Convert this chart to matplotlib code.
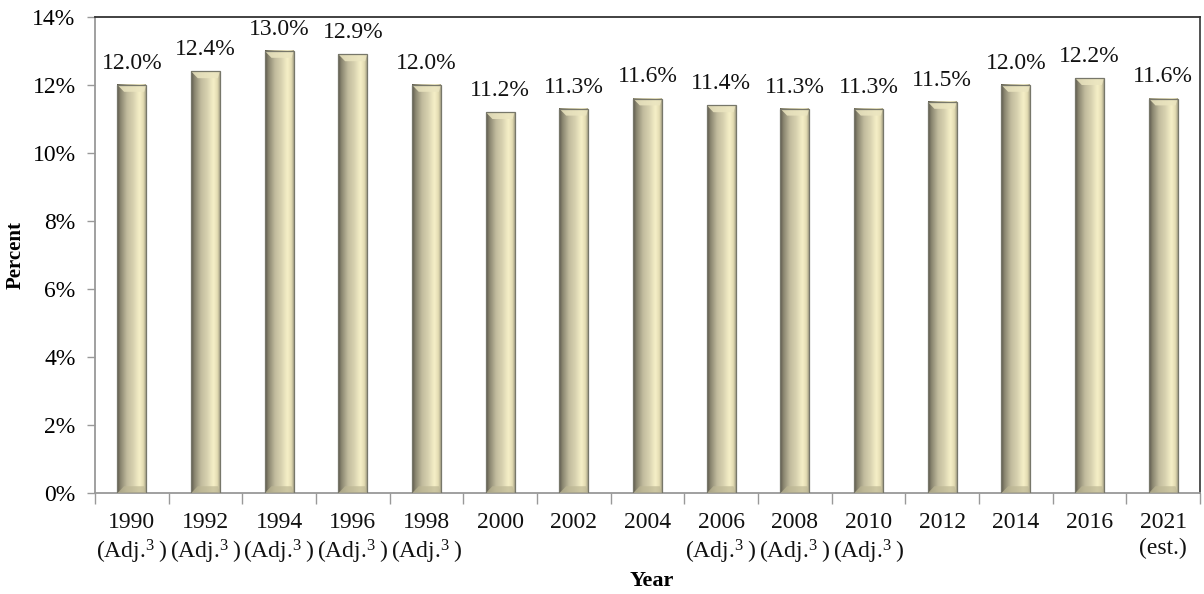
import numpy as np
import matplotlib
matplotlib.use("Agg")
import matplotlib.pyplot as plt
from matplotlib.colors import LinearSegmentedColormap
from matplotlib.patches import Polygon, Rectangle

years = ["1990", "1992", "1994", "1996", "1998", "2000", "2002", "2004",
         "2006", "2008", "2010", "2012", "2014", "2016", "2021"]
adj = "(Adj.$^{3}$\u2009)"
notes = [adj, adj, adj, adj, adj, "", "", "",
         adj, adj, adj, "", "", "", "(est.)"]
values = [12.0, 12.4, 13.0, 12.9, 12.0, 11.2, 11.3, 11.6,
          11.4, 11.3, 11.3, 11.5, 12.0, 12.2, 11.6]

plt.rcParams["font.family"] = ["Liberation Serif", "DejaVu Serif"]
plt.rcParams["mathtext.fontset"] = "custom"
plt.rcParams["mathtext.rm"] = "Liberation Serif"
plt.rcParams["mathtext.it"] = "Liberation Serif"
plt.rcParams["mathtext.default"] = "rm"

fig = plt.figure(figsize=(12.04, 5.94), dpi=100)
ax = fig.add_axes([0.0789, 0.170, 0.9178, 0.8014])

# shaded column look: dark left edge, bright highlight near the right
shade = LinearSegmentedColormap.from_list(
    "col", [(0.0, "#5a574a"), (0.12, "#8a8670"), (0.35, "#c2bc9e"),
            (0.55, "#d6d0ae"), (0.78, "#f6f0c8"), (0.92, "#e2dbb2"),
            (1.0, "#a6a186")])
grad = np.linspace(0, 1, 200).reshape(1, -1)

x = np.arange(len(values))
w = 0.39
bev_x = 0.09
bev_y = 0.2
for xi, v in zip(x, values):
    l, r = xi - w / 2, xi + w / 2
    ax.imshow(grad, cmap=shade, extent=[l, r, 0, v], aspect="auto",
              interpolation="bicubic", zorder=2)
    ax.add_patch(Polygon([(l, v), (r, v), (r - bev_x * 0.3, v - bev_y),
                          (l + bev_x, v - bev_y)],
                         closed=True, fc="#ebe5c0", ec="none", alpha=0.85, zorder=3))
    ax.add_patch(Polygon([(l, 0), (r, 0), (r - bev_x * 0.3, bev_y),
                          (l + bev_x, bev_y)],
                         closed=True, fc="#bdb794", ec="none", alpha=0.7, zorder=3))
    ax.add_patch(Rectangle((l, 0), w, v, fill=False, ec="#77776a", lw=0.9, zorder=4))
    ax.annotate(f"{v:.1f}%", (xi, v), xytext=(0, 8), textcoords="offset points",
                ha="center", va="bottom", fontsize=17, color="#111111")

ax.set_xlim(-0.5, len(values) - 0.5)
ax.set_ylim(0, 14)

ax.set_yticks(np.arange(0, 15, 2))
ax.set_yticklabels([f"{t}%" for t in range(0, 15, 2)], fontsize=17)
ax.set_xticks(np.arange(-0.5, len(values), 1.0))
ax.set_xticklabels([])
ax.tick_params(axis="y", length=6, width=1, color="#999999", pad=8)
ax.tick_params(axis="x", length=8, width=1, color="#999999")

for xi, yr, nt in zip(x, years, notes):
    ax.text(xi, -0.55, yr, ha="center", va="top", fontsize=17, color="#111111")
    if nt:
        ax.text(xi, -1.33, nt, ha="center", va="top", fontsize=17, color="#111111")

ax.spines["left"].set_color("#999999")
ax.spines["bottom"].set_color("#999999")
ax.spines["top"].set_color("#333333")
ax.spines["right"].set_color("#444444")
for s in ax.spines.values():
    s.set_linewidth(1.3)

ax.set_ylabel("Percent", fontsize=15, fontweight="bold", labelpad=5)
fig.text(0.541, 0.022, "Year", ha="center", va="center", fontsize=16, fontweight="bold")

fig.savefig("out.png", dpi=100)
